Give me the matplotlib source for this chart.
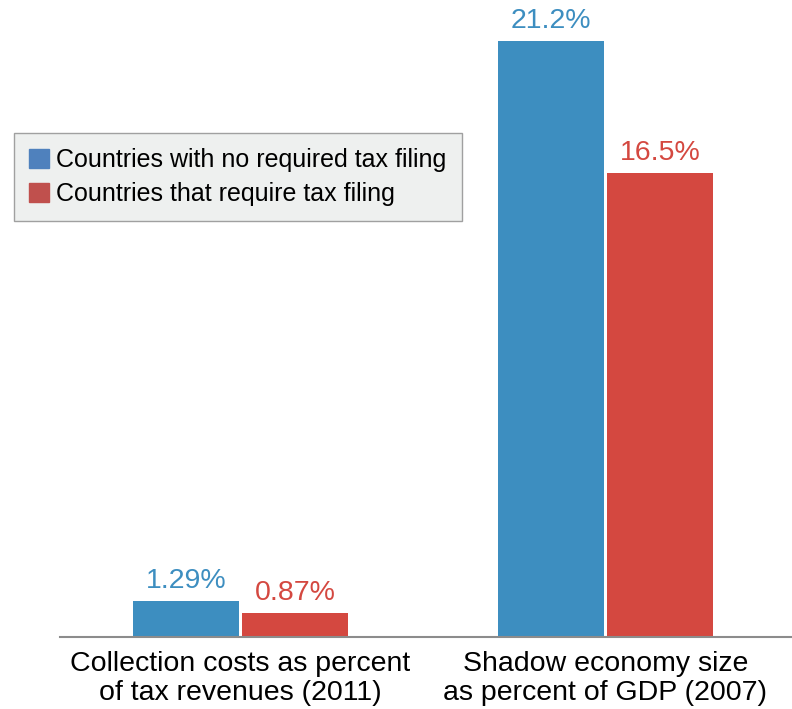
import matplotlib.pyplot as plt
from matplotlib.patches import Patch
import numpy as np

plt.rcParams['font.family'] = ['Liberation Sans', 'DejaVu Sans']

categories = ['Collection costs as percent\nof tax revenues (2011)',
              'Shadow economy size\nas percent of GDP (2007)']
no_filing = [1.29, 21.2]
req_filing = [0.87, 16.5]
no_filing_labels = ['1.29%', '21.2%']
req_filing_labels = ['0.87%', '16.5%']
series_names = ['Countries with no required tax filing',
                'Countries that require tax filing']

blue = '#3d8ec0'
red = '#d44840'
# legend swatches are a slightly different shade in the original
leg_blue = '#4f81bd'
leg_red = '#c0504d'

fig = plt.figure(figsize=(7.92, 7.09), dpi=100)
ax = fig.add_axes([60 / 792, 72 / 709, 732 / 792, 637 / 709])

x = np.arange(len(categories))
w = 0.29
off = 0.149
b1 = ax.bar(x - off, no_filing, w, color=blue)
b2 = ax.bar(x + off, req_filing, w, color=red)

# value labels above the bars
for bars, labels, col in [(b1, no_filing_labels, blue), (b2, req_filing_labels, red)]:
    for rect, lab in zip(bars, labels):
        ax.annotate(lab, (rect.get_x() + rect.get_width() / 2, rect.get_height()),
                    xytext=(0, 5), textcoords='offset points', ha='center', va='bottom',
                    color=col, fontsize=20.5, annotation_clip=False)

ax.set_xlim(-0.4945, 1.511)
ax.set_ylim(0, 22.66)
ax.set_xticks(x)
ax.set_xticklabels(categories, fontsize=20.5, linespacing=1.15)
ax.tick_params(axis='x', length=0, pad=10)
ax.set_yticks([])
for s in ['top', 'right', 'left']:
    ax.spines[s].set_visible(False)
ax.spines['bottom'].set_color('#8c8c8c')
ax.spines['bottom'].set_linewidth(1.5)

handles = [Patch(color=leg_blue, label=series_names[0]),
           Patch(color=leg_red, label=series_names[1])]
leg = ax.legend(handles=handles, loc='upper left',
                bbox_to_anchor=(14 / 792, (709 - 133) / 709),
                bbox_transform=fig.transFigure, fontsize=18, frameon=True,
                fancybox=False, handlelength=0.8, handleheight=0.8,
                handletextpad=0.3, borderpad=0.6, labelspacing=0.4,
                borderaxespad=0)
leg.get_frame().set_facecolor('#eef0ef')
leg.get_frame().set_edgecolor('#a0a0a0')
leg.get_frame().set_alpha(1)

fig.savefig('out.png', dpi=100)
